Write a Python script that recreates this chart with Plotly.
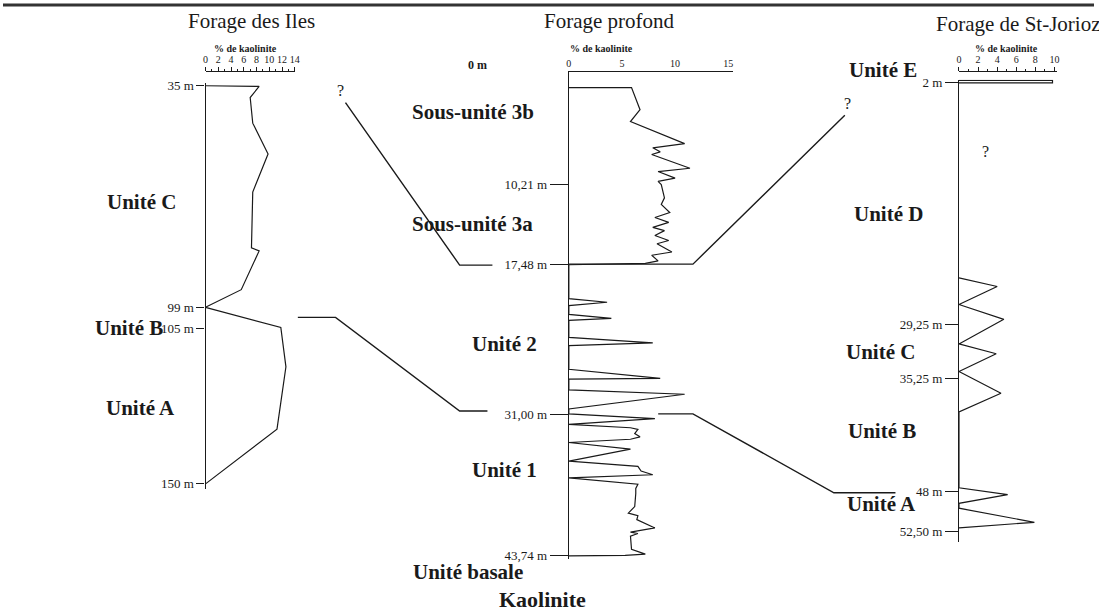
import plotly.graph_objects as go

W, H = 1099, 615
INK = "#1a1a1a"
SERIF = "Liberation Serif"


def fx(px):
    return px / W


def fy(py):
    return 1 - py / H


# Forage des Iles (depth in m, % kaolinite)
iles_depth = [35, 35.2, 38.4, 45.8, 54.7, 65.7, 81.8, 82.7, 93.9, 99, 104.8, 116.2, 134.2, 150]
iles_kaol = [0, 8.4, 7.0, 7.4, 9.8, 7.4, 7.2, 8.4, 5.6, 0, 11.8, 12.6, 11.2, 0]
iles_ticks = [35, 99, 105, 150]
iles_ticktext = ["35 m", "99 m", "105 m", "150 m"]

# Forage profond
prof_depth = [1.5, 1.5, 3.49, 4.56, 6.55, 6.93, 7.29, 7.53, 8.77, 9.07, 9.66, 9.96, 10.25,
              11.44, 12.03, 12.77, 13.22, 13.66, 14.11, 14.4, 14.84, 15.29, 15.58, 16.33,
              16.62, 17.13, 17.36, 17.48,
              20.53, 20.86, 21.16, 21.96, 22.31, 22.49, 24.03, 24.53, 24.77, 26.91, 27.73,
              27.8, 28.77, 29.16, 30.49, 30.93, 31.35, 31.88, 32.18, 32.33, 32.71, 33.0,
              33.22, 33.51, 34.11, 35.2, 35.67, 36.09, 36.42, 36.71, 37.27, 37.66, 38.11,
              39.29, 39.88, 40.12, 40.47, 41.22, 41.6, 41.72, 41.96, 43.14, 43.58, 43.7, 43.74]
prof_kaol = [0, 5.9, 6.7, 5.8, 10.9, 7.9, 8.6, 7.8, 11.4, 8.4, 10.0, 8.4, 8.7,
             9.0, 8.7, 9.5, 8.1, 9.4, 7.9, 9.0, 8.1, 9.4, 8.3, 9.7,
             7.8, 8.4, 7.2, 0,
             0, 3.6, 0, 0, 4.0, 0, 0, 7.9, 0, 0, 8.6,
             0, 0, 10.9, 0, 0, 8.1, 0, 5.8, 6.5, 6.2, 6.7,
             5.8, 0, 5.8, 0, 6.5, 6.8, 7.9, 0, 6.5, 6.3, 6.3,
             6.2, 5.6, 6.5, 6.4, 8.1, 5.8, 6.5, 5.8, 5.9, 7.2, 5.3, 0]
prof_ticks = [10.21, 17.48, 31.0, 43.74]
prof_ticktext = ["10,21 m", "17,48 m", "31,00 m", "43,74 m"]

# Forage de St-Jorioz
jor_top_depth = [1.72, 1.72, 2.0, 2.0]
jor_top_kaol = [0, 9.8, 9.8, 0]
jor_depth = [23.98, 24.94, 26.97, 28.64, 31.41, 32.52, 34.52, 36.96, 39.07,
             47.62, 48.39, 49.36, 49.91, 51.5, 52.13]
jor_kaol = [0, 4.0, 0, 4.7, 0, 3.9, 0, 4.4, 0,
            0, 5.1, 0, 0, 7.9, 0]
jor_ticks = [2, 29.25, 35.25, 48, 52.5]
jor_ticktext = ["2 m", "29,25 m", "35,25 m", "48 m", "52,50 m"]

# Correlation lines between the boreholes (drawing coordinates)
corr_lines = {
    "3a_top": ([345, 460, 493], [100, 265, 265]),
    "3a_right": ([570, 695, 848], [264, 264, 113]),
    "B_to_31": ([297, 335, 460, 488], [318, 318, 413, 413]),
    "31_to_48": ([660, 695, 837, 899], [416, 416, 496, 496]),
}

# Unit labels
unit_text = ["Unité C", "Unité B", "Unité A", "Sous-unité 3b", "Sous-unité 3a", "Unité 2",
             "Unité 1", "Unité basale", "Unité E", "Unité D", "Unité C", "Unité B", "Unité A"]
unit_x = [140, 127, 139, 473, 473, 505, 505, 468, 886, 892, 884, 885, 885]
unit_y = [201, 329, 410, 110, 223, 345, 473, 576, 67, 213, 353, 433, 507]

fig = go.Figure()

line = dict(color=INK, width=1.2)
fig.add_trace(go.Scatter(x=iles_kaol, y=iles_depth, mode="lines", line=line, xaxis="x", yaxis="y"))
fig.add_trace(go.Scatter(x=prof_kaol, y=prof_depth, mode="lines", line=line, xaxis="x2", yaxis="y2"))
fig.add_trace(go.Scatter(x=jor_top_kaol, y=jor_top_depth, mode="lines", line=line, xaxis="x3", yaxis="y3"))
fig.add_trace(go.Scatter(x=jor_kaol, y=jor_depth, mode="lines", line=line, xaxis="x3", yaxis="y3"))
for cx, cy in corr_lines.values():
    fig.add_trace(go.Scatter(x=cx, y=cy, mode="lines", line=dict(color=INK, width=1.4),
                             xaxis="x4", yaxis="y4"))

tickfont = dict(family=SERIF, size=10, color=INK)
depthfont = dict(family=SERIF, size=13, color=INK)


def xax(px0, px1, rng, tickvals, minor):
    d = dict(domain=[fx(px0), fx(px1)], range=rng, anchor="free", position=fy(68), side="top",
             showline=True, linecolor=INK, linewidth=1.2, showgrid=False, zeroline=False,
             tickvals=tickvals, tickfont=tickfont, ticks="outside" if minor else "",
             ticklen=4, tickcolor=INK, tickwidth=1, fixedrange=True)
    if minor:
        d["minor"] = dict(dtick=1, ticks="outside", ticklen=2, tickcolor=INK)
    return d


def yax(py0, py1, rng, tickvals, ticktext, ticklen, anchor):
    return dict(domain=[fy(py1), fy(py0)], range=rng, anchor=anchor, showline=True,
                linecolor=INK, linewidth=1.2, showgrid=False, zeroline=False,
                tickvals=tickvals, ticktext=ticktext, ticks="outside", ticklen=ticklen,
                tickcolor=INK, tickwidth=1, tickfont=depthfont, fixedrange=True)


fig.update_layout(
    width=W, height=H, margin=dict(l=0, r=0, t=0, b=0),
    paper_bgcolor="white", plot_bgcolor="rgba(0,0,0,0)", showlegend=False,
    xaxis=xax(204, 294, [0, 14], list(range(0, 15, 2)), True),
    yaxis=yax(80, 492, [151.42, 34.15], iles_ticks, iles_ticktext, 8, "x"),
    xaxis2=xax(570, 735, [0, 15.42], [0, 5, 10, 15], False),
    yaxis2=yax(68, 563, [44.0, 0], prof_ticks, prof_ticktext, 18, "x2"),
    xaxis3=xax(963, 1062, [0, 10.3], list(range(0, 11, 2)), True),
    yaxis3=yax(77, 546, [53.72, 1.67], jor_ticks, jor_ticktext, 13, "x3"),
    xaxis4=dict(domain=[0, 1], range=[0, W], visible=False, anchor="y4", fixedrange=True),
    yaxis4=dict(domain=[0, 1], range=[H, 0], visible=False, anchor="x4", fixedrange=True),
)

ann = []
for t, x, y in zip(unit_text, unit_x, unit_y):
    ann.append(dict(text="<b>" + t + "</b>", x=x, y=y, font=dict(family=SERIF, size=21, color=INK)))
for t, x, y in [("Forage des Iles", 250, 17), ("Forage profond", 611, 17),
                ("Forage de St-Jorioz", 1022, 20)]:
    ann.append(dict(text=t, x=x, y=y, font=dict(family=SERIF, size=21, color=INK)))
for x in [244, 603, 1011]:
    ann.append(dict(text="<b>% de kaolinite</b>", x=x, y=45, font=dict(family=SERIF, size=10, color=INK)))
for x, y in [(340, 88), (851, 101), (990, 150)]:
    ann.append(dict(text="?", x=x, y=y, font=dict(family=SERIF, size=16, color=INK)))
ann.append(dict(text="<b>0 m</b>", x=478, y=62, font=dict(family=SERIF, size=12, color=INK)))
ann.append(dict(text="<b>Kaolinite</b>", x=543, y=604, font=dict(family=SERIF, size=22, color=INK)))
for a in ann:
    a.update(xref="x4", yref="y4", showarrow=False, xanchor="center", yanchor="middle")
fig.update_layout(annotations=ann)

fig.add_shape(type="line", xref="paper", yref="paper", x0=0, x1=1, y0=fy(1), y1=fy(1),
              line=dict(color="#333", width=3))

fig.write_html("out.html", config={"displayModeBar": False},
               post_script="document.body.style.margin='0';")
